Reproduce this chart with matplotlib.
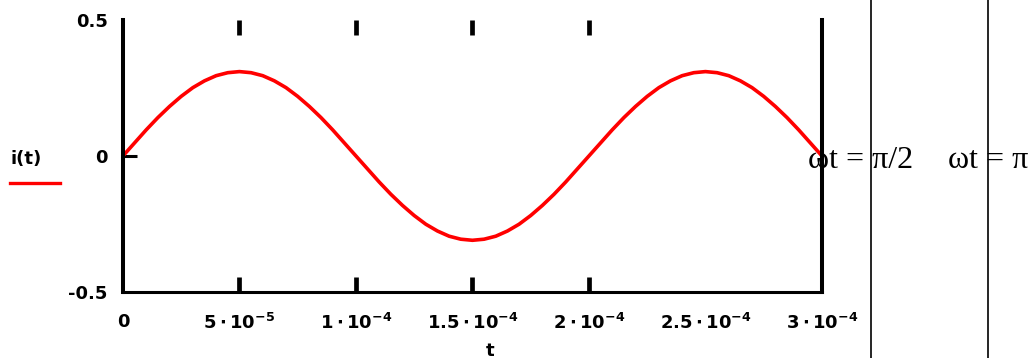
import matplotlib
import matplotlib.pyplot as plt

matplotlib.use('Agg')

# sampled current waveform, t in microseconds
t_us = [0, 5, 10, 15, 20, 25, 30, 35, 40, 45, 50, 55, 60, 65, 70, 75, 80, 85, 90, 95,
        100, 105, 110, 115, 120, 125, 130, 135, 140, 145, 150, 155, 160, 165, 170, 175,
        180, 185, 190, 195, 200, 205, 210, 215, 220, 225, 230, 235, 240, 245, 250, 255,
        260, 265, 270, 275, 280, 285, 290, 295, 300]
i_vals = [0.0, 0.048, 0.096, 0.141, 0.182, 0.219, 0.251, 0.276, 0.295, 0.306,
          0.310, 0.306, 0.295, 0.276, 0.251, 0.219, 0.182, 0.141, 0.096, 0.048,
          0.0, -0.048, -0.096, -0.141, -0.182, -0.219, -0.251, -0.276, -0.295, -0.306,
          -0.310, -0.306, -0.295, -0.276, -0.251, -0.219, -0.182, -0.141, -0.096, -0.048,
          0.0, 0.048, 0.096, 0.141, 0.182, 0.219, 0.251, 0.276, 0.295, 0.306,
          0.310, 0.306, 0.295, 0.276, 0.251, 0.219, 0.182, 0.141, 0.096, 0.048, 0.0]

x_ticks = [0, 5e-5, 1e-4, 1.5e-4, 2e-4, 2.5e-4, 3e-4]
x_labels = ['0', r'$\mathbf{5\cdot10^{-5}}$', r'$\mathbf{1\cdot10^{-4}}$',
            r'$\mathbf{1.5\cdot10^{-4}}$', r'$\mathbf{2\cdot10^{-4}}$',
            r'$\mathbf{2.5\cdot10^{-4}}$', r'$\mathbf{3\cdot10^{-4}}$']
x_marks = [5e-5, 1e-4, 1.5e-4, 2e-4]
y_ticks = [-0.5, 0, 0.5]
y_labels = ['-0.5', '0', '0.5']

t = [v * 1e-6 for v in t_us]

fig = plt.figure(figsize=(10.33, 3.58), dpi=100)
ax = fig.add_axes([0.119, 0.1844, 0.6767, 0.760])

ax.plot(t, i_vals, color='#ff0000', linewidth=2.6, solid_capstyle='butt')
ax.set_xlim(0, 3e-4)
ax.set_ylim(-0.5, 0.5)

ax.spines['top'].set_visible(False)
ax.spines['left'].set_linewidth(2.9)
ax.spines['right'].set_linewidth(2.9)
ax.spines['bottom'].set_linewidth(2.2)

# keep the short tick marks even where they sit on labelled positions
ax.xaxis.remove_overlapping_locs = False
ax.yaxis.remove_overlapping_locs = False

ax.set_xticks(x_ticks)
ax.set_xticklabels(x_labels, fontsize=13, fontweight='bold')
ax.set_xticks(x_marks, minor=True)
ax.set_yticks(y_ticks)
ax.set_yticklabels(y_labels, fontsize=13, fontweight='bold')
ax.set_yticks([0], minor=True)
ax.tick_params(axis='x', which='major', length=0, pad=15)
ax.tick_params(axis='x', which='minor', length=11, width=3.4, direction='in',
               top=True, bottom=True)
ax.tick_params(axis='y', which='major', length=0, pad=11)
ax.tick_params(axis='y', which='minor', length=10, width=2.2, direction='in')

# legend-style label on the left
fig.text(0.010, 0.555, 'i(t)', fontsize=13, fontweight='bold', ha='left', va='center')
fig.add_artist(plt.Line2D([0.010, 0.058], [0.489, 0.489], color='#ff0000', linewidth=2.4))
fig.text(0.474, -0.005, 't', fontsize=13, fontweight='bold', ha='center', va='bottom')

# phase annotations and separators
fig.text(0.782, 0.531, '\u03c9t = \u03c0/2', fontsize=23, family='Liberation Serif',
         ha='left', va='baseline')
fig.text(0.918, 0.531, '\u03c9t = \u03c0', fontsize=23, family='Liberation Serif',
         ha='left', va='baseline')
fig.add_artist(plt.Line2D([0.8430, 0.8430], [0, 1], color='black', linewidth=1.2))
fig.add_artist(plt.Line2D([0.9565, 0.9565], [0, 1], color='black', linewidth=1.2))

fig.savefig('out.png', dpi=100)
plt.close(fig)
